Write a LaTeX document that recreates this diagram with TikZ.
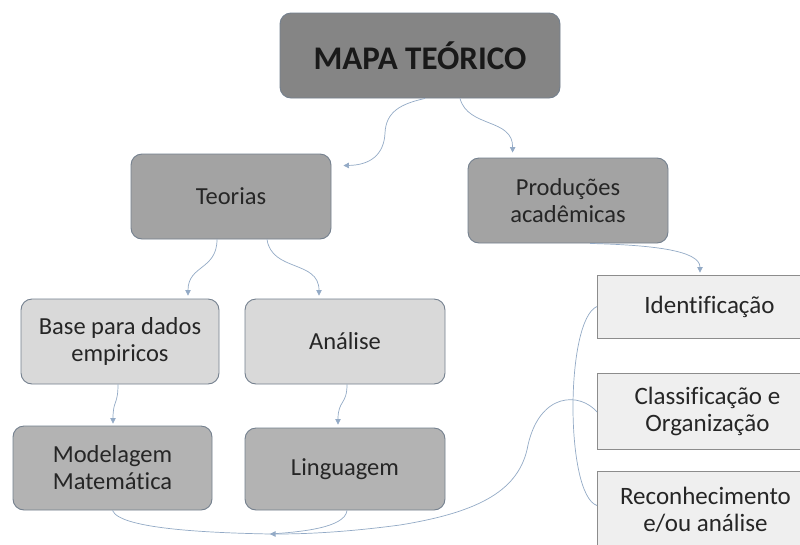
\documentclass[tikz,border=0pt]{standalone}
\usepackage{fontspec}
\setmainfont{Carlito}[Ligatures=NoCommon]
\usetikzlibrary{calc,arrows.meta}
\definecolor{cMapa}{HTML}{858585}
\definecolor{cMid}{HTML}{A3A3A3}
\definecolor{cLight}{HTML}{D9D9D9}
\definecolor{cLow}{HTML}{B3B3B3}
\definecolor{cRight}{HTML}{EFEFEF}
\definecolor{cBorder}{HTML}{74808E}
\definecolor{cRBorder}{HTML}{8C8C8C}
\definecolor{cLink}{HTML}{93AAC6}
\tikzset{
  rbox/.style={draw=cBorder, line width=0.9pt, rounded corners=11pt, align=center,
    inner sep=0pt, font=\fontsize{24.5}{27}\selectfont, text=black!85},
  sqbox/.style={draw=cRBorder, line width=0.9pt, fill=cRight, align=center,
    inner sep=0pt, font=\fontsize{25}{27}\selectfont, text=black!85, anchor=west},
  link/.style={draw=cLink, line width=0.7pt},
  linkarr/.style={link, -{Triangle[length=5.5pt,width=5.5pt]}}
}
\begin{document}
\begin{tikzpicture}[x=1pt,y=-1pt]
\useasboundingbox (0,0) rectangle (800,544);
\fill[white] (0,0) rectangle (800,544);
\clip (0,0) rectangle (800,544);

\node[rbox, fill=cMapa, minimum width=280pt, minimum height=85pt,
  font=\fontsize{33}{36}\selectfont\bfseries, text=black!90] (mapa) at (420,55.5) {MAPA TEÓRICO};
\node[rbox, fill=cMid, minimum width=200pt, minimum height=85pt] (teorias) at (231,196.5) {Teorias};
\node[rbox, fill=cMid, minimum width=200pt, minimum height=85pt] (prod) at (568,200.5) {Produções\\acadêmicas};
\node[rbox, fill=cLight, minimum width=198pt, minimum height=85pt] (base) at (120,341.5) {Base para dados\\empiricos};
\node[rbox, fill=cLight, minimum width=200pt, minimum height=85pt] (analise) at (345,341.5) {Análise};
\node[rbox, fill=cLow, minimum width=199pt, minimum height=84pt] (model) at (112.5,468) {Modelagem\\Matemática};
\node[rbox, fill=cLow, minimum width=200pt, minimum height=82pt] (ling) at (345,469) {Linguagem};

\node[sqbox, minimum width=224pt, minimum height=63pt] (ident) at (597,306.5) {Identificação};
\node[sqbox, minimum width=220pt, minimum height=76pt] (classif) at (597,411) {Classificação e\\Organização};
\node[sqbox, minimum width=216pt, minimum height=77pt] (recon) at (597,509.5) {Reconhecimento\\e/ou análise};

\coordinate (merge) at (270,534);

% connectors
\draw[linkarr] ($(mapa.south)+(5,0)$) .. controls (400,104) and (386,112) .. (385,133)
  .. controls (384,155) and (370,165) .. ($(teorias.north east)+(12,12)$);
\draw[linkarr] ($(mapa.south)+(40,0)$) .. controls (468,128) and (513,118) .. ($(prod.north west)+(45,-5)$);
\draw[linkarr] ($(teorias.south)+(-14,0)$) .. controls (217,270) and (188,265) .. ($(base.north)+(68,-3)$);
\draw[linkarr] ($(teorias.south)+(36,0)$) .. controls (272,272) and (319,260) .. ($(analise.north)+(-26,-3)$);
\draw[linkarr] ($(base.south)+(-2,0)$) .. controls (118,405) and (113,400) .. ($(model.north)+(0.5,-2)$);
\draw[linkarr] ($(analise.south)+(2,0)$) .. controls (347,405) and (338,400) .. ($(ling.north)+(-7,-3)$);
\draw[linkarr] ($(prod.south)+(22,0)$) .. controls (650,245) and (700,250) .. ($(ident.north west)+(103,-2)$);
\draw[link] (ident.west) .. controls (565,320) and (565,495) .. ($(recon.west)+(0,-4)$);
\draw[linkarr] ($(classif.west)+(0,1)$) .. controls (580,392) and (540,392) .. (528,445)
  .. controls (520,490) and (480,512) .. (400,525)
  .. controls (340,533) and (300,534) .. (merge);
\draw[link] (model.south) .. controls (120,530) and (220,533) .. (merge);
\draw[link] ($(ling.south)+(2,0)$) .. controls (345,528) and (300,532) .. (merge);
\end{tikzpicture}
\end{document}
